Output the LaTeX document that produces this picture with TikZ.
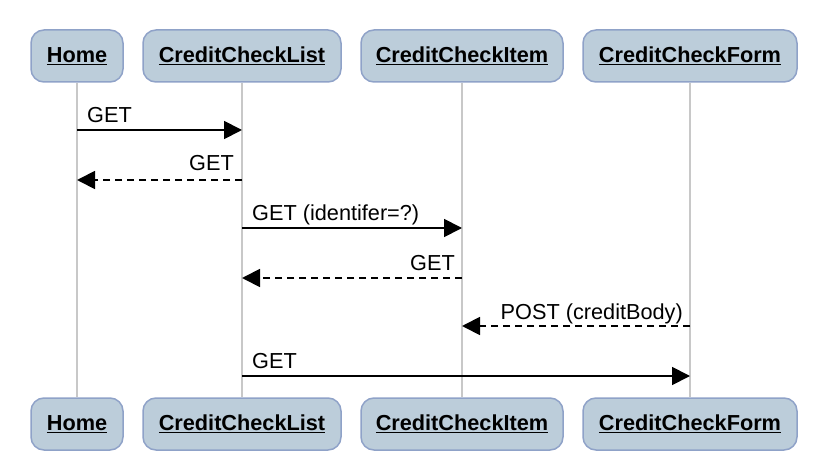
\documentclass[tikz,border=0pt]{standalone}
\usepackage{fontspec}
\setmainfont{Liberation Sans}
\usetikzlibrary{arrows.meta}
\definecolor{boxfill}{RGB}{188,205,218}
\definecolor{boxline}{RGB}{143,162,200}
\definecolor{lifegray}{RGB}{200,200,200}
\tikzset{
  actor/.style={draw=boxline, fill=boxfill, line width=1.5pt, rounded corners=13pt,
    minimum height=52pt, inner sep=0pt, font=\fontsize{21.7}{25}\selectfont\bfseries},
  lifeline/.style={draw=lifegray, line width=1.5pt},
  msg/.style={line width=1.8pt, -{Triangle[length=18pt,width=18pt]}},
  ret/.style={msg, dash pattern=on 7pt off 5pt},
  lbl/.style={inner sep=0pt, font=\fontsize{21.7}{25}\selectfont}
}
\begin{document}
\begin{tikzpicture}[x=1pt,y=-1pt]
\useasboundingbox (0,0) rectangle (826,470);
% header actors
\node[actor, minimum width=92pt]  (tHome) at (77,56)  {\underline{Home}};
\node[actor, minimum width=198pt] (tList) at (242,56) {\underline{CreditCheckList}};
\node[actor, minimum width=202pt] (tItem) at (462,56) {\underline{CreditCheckItem}};
\node[actor, minimum width=214pt] (tForm) at (690,56) {\underline{CreditCheckForm}};
% footer actors
\node[actor, minimum width=92pt]  (bHome) at (77,424)  {\underline{Home}};
\node[actor, minimum width=198pt] (bList) at (242,424) {\underline{CreditCheckList}};
\node[actor, minimum width=202pt] (bItem) at (462,424) {\underline{CreditCheckItem}};
\node[actor, minimum width=214pt] (bForm) at (690,424) {\underline{CreditCheckForm}};
% lifelines
\draw[lifeline] (tHome.south) -- (bHome.north);
\draw[lifeline] (tList.south) -- (bList.north);
\draw[lifeline] (tItem.south) -- (bItem.north);
\draw[lifeline] (tForm.south) -- (bForm.north);
% message points
\coordinate (h1) at (77,130);  \coordinate (l1) at (242,130);
\coordinate (h2) at (77,180);  \coordinate (l2) at (242,180);
\coordinate (l3) at (242,228); \coordinate (i3) at (462,228);
\coordinate (l4) at (242,278); \coordinate (i4) at (462,278);
\coordinate (i5) at (462,326); \coordinate (f5) at (690,326);
\coordinate (l6) at (242,376); \coordinate (f6) at (690,376);
% messages
\draw[msg] (h1) -- (l1);
\draw[ret] (l2) -- (h2);
\draw[msg] (l3) -- (i3);
\draw[ret] (i4) -- (l4);
\draw[ret] (f5) -- (i5);
\draw[msg] (l6) -- (f6);
% labels
\node[lbl, anchor=base west] (m1) at (87,123) {GET};
\node[lbl, anchor=base east] (m2) at (234,171) {GET};
\node[lbl, anchor=base west] (m3) at (252,221) {GET (identifer=?)};
\node[lbl, anchor=base east] (m4) at (455,270) {GET};
\node[lbl, anchor=base east] (m5) at (683,319) {POST (creditBody)};
\node[lbl, anchor=base west] (m6) at (252,368) {GET};
\end{tikzpicture}
\end{document}
